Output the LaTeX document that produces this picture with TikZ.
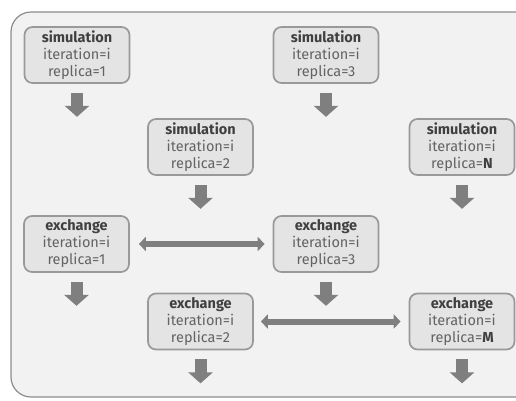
\documentclass[tikz,border=0pt]{standalone}
\usepackage{fontspec}
\setmainfont{Fira Sans}
\usetikzlibrary{arrows.meta,calc}
\definecolor{bgfill}{HTML}{F2F2F2}
\definecolor{bgdraw}{HTML}{8C8C8C}
\definecolor{boxfill}{HTML}{E4E4E4}
\definecolor{boxdraw}{HTML}{999999}
\definecolor{titlecol}{HTML}{404040}
\definecolor{linecol}{HTML}{636363}
\definecolor{arrcol}{HTML}{7F7F7F}
\begin{document}
\begin{tikzpicture}[x=1pt,y=-1pt,
  stepbox/.style={draw=boxdraw, fill=boxfill, line width=1.7pt, rounded corners=8pt,
    minimum width=105pt, minimum height=56pt, inner sep=0pt, align=center,
    font=\fontsize{14.5}{17}\selectfont, text=linecol},
  downarr/.style={draw=arrcol, line width=12pt, -{Triangle[length=11pt,width=24pt]}},
  dblarr/.style={draw=arrcol, line width=6pt, {Triangle[length=7pt,width=14pt]}-{Triangle[length=7pt,width=14pt]}}
]
\useasboundingbox (0,0) rectangle (516,400);
\draw[fill=bgfill, draw=bgdraw, line width=1.2pt, rounded corners=20pt] (11,12) rectangle (540,397);

\node[stepbox] (sim1) at (77,55) {\textbf{\color{titlecol}simulation}\\iteration=i\\replica=1};
\node[stepbox] (sim3) at (326,55) {\textbf{\color{titlecol}simulation}\\iteration=i\\replica=3};
\node[stepbox] (sim2) at (200.5,147) {\textbf{\color{titlecol}simulation}\\iteration=i\\replica=2};
\node[stepbox] (simN) at (462,147) {\textbf{\color{titlecol}simulation}\\iteration=i\\replica=\textbf{\color{titlecol}N}};
\node[stepbox] (ex1) at (76.5,244) {\textbf{\color{titlecol}exchange}\\iteration=i\\replica=1};
\node[stepbox] (ex3) at (326,244) {\textbf{\color{titlecol}exchange}\\iteration=i\\replica=3};
\node[stepbox] (ex2) at (200.5,321.5) {\textbf{\color{titlecol}exchange}\\iteration=i\\replica=2};
\node[stepbox] (exM) at (462,321.5) {\textbf{\color{titlecol}exchange}\\iteration=i\\replica=\textbf{\color{titlecol}M}};

\foreach \n in {sim1,sim3,sim2,simN,ex1,ex3,ex2,exM}{
  \coordinate (\n a) at ($(\n.south)+(0,9)$);
  \coordinate (\n b) at ($(\n.south)+(0,33)$);
  \draw[downarr] (\n a) -- (\n b);
}

\draw[dblarr] ($(ex1.east)+(9,0)$) -- ($(ex3.west)+(-8,0)$);
\draw[dblarr] ($(ex2.east)+(7,0)$) -- ($(exM.west)+(-8,0)$);
\end{tikzpicture}
\end{document}
